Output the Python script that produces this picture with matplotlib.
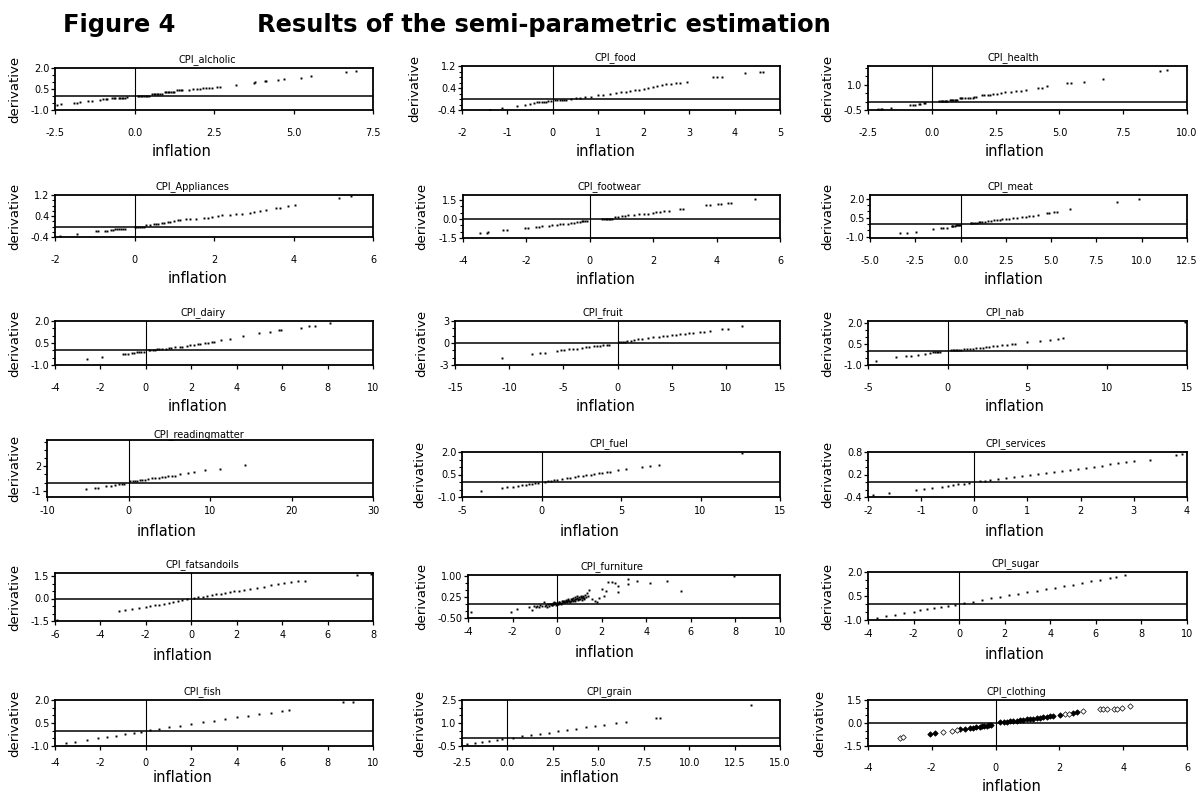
import matplotlib

matplotlib.use("Agg")
import matplotlib.pyplot as plt
import numpy as np
from matplotlib.ticker import FixedLocator, FormatStrFormatter, MultipleLocator

FIG_W, FIG_H = 1204, 796
OUTPUT_PATH = "out.png"

# ---- data (inflation, derivative) ----
alcholic_x = [-2.45, -2.3, -1.9, -1.8, -1.7, -1.45, -1.35, -1.1, -1.0, -0.9, -0.85, -0.7, -0.65, -0.6, -0.5, -0.45, -0.4, -0.35, -0.3, -0.25,
              0.1, 0.15, 0.2, 0.25, 0.3, 0.35, 0.4, 0.45,
              0.55, 0.6, 0.65, 0.7, 0.75, 0.8, 0.85,
              0.95, 1.0, 1.05, 1.1, 1.15, 1.2, 1.25,
              1.35, 1.4, 1.45, 1.5,
              1.7, 1.85, 1.95, 2.05, 2.15, 2.25, 2.35, 2.45, 2.6, 2.7, 3.2, 3.75, 3.8, 4.1, 4.15, 4.5, 4.7, 5.25, 5.55, 6.65, 6.98]
alcholic_y = [-0.66, -0.6, -0.5, -0.47, -0.42, -0.36, -0.34, -0.26, -0.24, -0.21, -0.2, -0.17, -0.16, -0.15, -0.13, -0.12, -0.12, -0.11, -0.11, -0.1,
              0.02, 0.02, 0.02, 0.02, 0.02, 0.02, 0.02, 0.02,
              0.14, 0.14, 0.14, 0.14, 0.14, 0.14, 0.14,
              0.27, 0.27, 0.27, 0.27, 0.27, 0.27, 0.27,
              0.4, 0.4, 0.4, 0.4,
              0.45, 0.47, 0.5, 0.52, 0.56, 0.57, 0.58, 0.6, 0.62, 0.65, 0.8, 0.95, 1.0, 1.06, 1.1, 1.12, 1.18, 1.29, 1.4, 1.74, 1.82]

food_x = [-1.38, -1.12, -0.79, -0.62, -0.5, -0.42, -0.35, -0.3, -0.25, -0.2, -0.15, -0.1, -0.05,
          0.05, 0.1, 0.15, 0.2, 0.25, 0.3, 0.4, 0.5, 0.6, 0.7, 0.85,
          1.0, 1.1, 1.25, 1.4, 1.5, 1.6, 1.7, 1.8, 1.9,
          2.0, 2.1, 2.2, 2.3, 2.4, 2.5, 2.6, 2.7, 2.8, 2.95,
          3.53, 3.62, 3.72, 4.23, 4.55, 4.62]
food_y = [-0.4, -0.34, -0.24, -0.21, -0.17, -0.14, -0.12, -0.11, -0.11, -0.1, -0.1, -0.09, -0.09,
          -0.03, -0.03, -0.03, -0.03, -0.02, -0.02, 0.0, 0.02, 0.04, 0.06, 0.09,
          0.13, 0.15, 0.19, 0.22, 0.24, 0.27, 0.29, 0.31, 0.33,
          0.36, 0.39, 0.42, 0.46, 0.5, 0.53, 0.55, 0.57, 0.58, 0.61,
          0.8, 0.8, 0.8, 0.95, 1.0, 1.0]

health_x = [-2.1, -2.0, -1.95, -1.58, -0.86, -0.75, -0.67, -0.5, -0.45, -0.3, -0.25,
            0.3, 0.35, 0.4, 0.45, 0.5, 0.55, 0.6,
            0.7, 0.75, 0.8, 0.85, 0.9, 0.95, 1.0,
            1.1, 1.15, 1.2, 1.3, 1.4, 1.5, 1.6,
            1.65, 1.75, 1.95, 2.05, 2.2, 2.3, 2.4, 2.55, 2.7, 2.85, 3.1, 3.3, 3.5, 3.7, 4.15, 4.3, 4.5, 5.3, 5.45, 5.95, 6.7, 8.95, 9.2]
health_y = [-0.46, -0.46, -0.47, -0.38, -0.22, -0.2, -0.18, -0.14, -0.13, -0.11, -0.1,
            0.04, 0.04, 0.04, 0.04, 0.04, 0.04, 0.04,
            0.1, 0.1, 0.1, 0.1, 0.1, 0.1, 0.1,
            0.2, 0.2, 0.2, 0.2, 0.2, 0.2, 0.2,
            0.28, 0.3, 0.38, 0.38, 0.4, 0.42, 0.44, 0.48, 0.5, 0.55, 0.6, 0.64, 0.66, 0.72, 0.82, 0.82, 0.9, 1.1, 1.1, 1.18, 1.35, 1.83, 1.88]

appliances_x = [-1.87, -1.44, -0.97, -0.92, -0.75, -0.7, -0.6, -0.55, -0.5, -0.45, -0.4, -0.35, -0.3, -0.25,
                0.02, 0.05, 0.1, 0.15, 0.2, 0.25, 0.3, 0.4, 0.5, 0.55,
                0.6, 0.7, 0.75, 0.85, 0.9, 1.0, 1.1, 1.15, 1.3, 1.4,
                1.55, 1.75, 1.85, 1.95, 2.1, 2.2, 2.4, 2.55, 2.7, 2.9,
                3.0, 3.15, 3.3, 3.55, 3.65, 3.85, 4.05, 5.15, 5.45]
appliances_y = [-0.37, -0.3, -0.19, -0.19, -0.16, -0.16, -0.14, -0.14, -0.11, -0.1, -0.1, -0.1, -0.1, -0.1,
                -0.02, -0.01, -0.01, 0.0, 0.0, 0.0, 0.04, 0.06, 0.08, 0.1,
                0.1, 0.13, 0.14, 0.16, 0.18, 0.2, 0.23, 0.25, 0.27, 0.28,
                0.29, 0.31, 0.33, 0.37, 0.4, 0.42, 0.44, 0.46, 0.48, 0.53,
                0.56, 0.6, 0.62, 0.69, 0.69, 0.78, 0.82, 1.1, 1.15]

footwear_x = [-3.47, -3.25, -3.2, -2.74, -2.6, -2.05, -1.95, -1.7, -1.6, -1.5, -1.3, -1.2,
              -1.05, -0.95, -0.85, -0.7, -0.6, -0.5, -0.4, -0.3, -0.25, -0.2, -0.15, -0.1,
              0.4, 0.45, 0.5, 0.55, 0.6, 0.65, 0.7,
              0.8, 0.9, 1.0, 1.1, 1.2, 1.4, 1.55, 1.7, 1.85, 2.0,
              2.1, 2.2, 2.35, 2.5, 2.85, 2.95, 3.65, 3.8, 4.05, 4.15, 4.35, 4.45, 5.2]
footwear_y = [-1.14, -1.07, -1.04, -0.9, -0.9, -0.69, -0.69, -0.61, -0.6, -0.58, -0.53, -0.5,
              -0.46, -0.43, -0.4, -0.36, -0.34, -0.3, -0.26, -0.2, -0.19, -0.18, -0.17, -0.17,
              0.0, 0.0, 0.0, 0.01, 0.01, 0.01, 0.02,
              0.15, 0.18, 0.2, 0.25, 0.28, 0.33, 0.37, 0.4, 0.42, 0.5,
              0.52, 0.55, 0.6, 0.62, 0.77, 0.8, 1.14, 1.14, 1.22, 1.22, 1.3, 1.3, 1.59]

meat_x = [-3.34, -2.97, -2.46, -1.5, -1.1, -0.95, -0.75, -0.5,
          -0.45, -0.4, -0.3, -0.25, -0.2, -0.15, -0.1, -0.05,
          0.55, 0.6, 0.7, 0.8, 0.9, 1.0, 1.1, 1.2, 1.35, 1.5,
          1.7, 1.85, 2.0, 2.15, 2.3, 2.5, 2.7, 2.9, 3.1, 3.4,
          3.6, 3.8, 4.0, 4.3, 4.75, 4.9, 5.15, 5.3, 6.05, 8.65, 9.85]
meat_y = [-0.72, -0.72, -0.6, -0.39, -0.29, -0.27, -0.27, -0.18,
          -0.15, -0.15, -0.12, -0.11, -0.11, -0.1, -0.09, -0.08,
          0.05, 0.06, 0.06, 0.07, 0.09, 0.13, 0.15, 0.15, 0.18, 0.21,
          0.25, 0.29, 0.32, 0.36, 0.39, 0.41, 0.44, 0.48, 0.5, 0.54,
          0.58, 0.61, 0.66, 0.72, 0.86, 0.88, 0.95, 0.95, 1.18, 1.71, 1.95]

dairy_x = [-2.6, -1.95, -1.0, -0.9, -0.8, -0.63, -0.5, -0.4, -0.3, -0.2, -0.1,
           0.15, 0.2, 0.3, 0.4, 0.5, 0.6, 0.7, 0.9, 1.0, 1.1,
           1.3, 1.5, 1.6, 1.8, 1.95, 2.1, 2.3, 2.4, 2.6, 2.75,
           2.9, 3.0, 3.3, 3.7, 4.28, 5.0, 5.45, 5.85, 5.95, 6.85, 7.2, 7.45, 8.1]
dairy_y = [-0.61, -0.48, -0.25, -0.25, -0.24, -0.16, -0.15, -0.14, -0.12, -0.11, -0.11,
           0.02, 0.02, 0.03, 0.04, 0.07, 0.07, 0.08, 0.12, 0.14, 0.16,
           0.2, 0.22, 0.26, 0.3, 0.35, 0.38, 0.42, 0.45, 0.5, 0.52,
           0.56, 0.6, 0.7, 0.8, 0.95, 1.15, 1.25, 1.36, 1.36, 1.55, 1.66, 1.66, 1.84]

fruit_x = [-10.7, -7.9, -7.15, -6.7, -5.6, -5.2, -4.9, -4.5, -4.1, -3.7,
           -3.3, -2.9, -2.6, -2.2, -1.9, -1.6, -1.3, -1.0, -0.8,
           0.1, 0.3, 0.5, 0.7, 0.9, 1.2, 1.5, 1.9, 2.3, 2.8,
           3.3, 3.8, 4.2, 4.6, 5.0, 5.4, 5.8, 6.2, 6.6, 7.0,
           7.6, 8.0, 8.5, 9.6, 10.2, 11.5]
fruit_y = [-2.1, -1.45, -1.4, -1.3, -1.05, -1.0, -0.96, -0.88, -0.82, -0.76,
           -0.68, -0.6, -0.55, -0.47, -0.42, -0.38, -0.34, -0.3, -0.3,
           0.1, 0.12, 0.14, 0.18, 0.22, 0.3, 0.4, 0.5, 0.58, 0.7,
           0.78, 0.88, 0.95, 1.0, 1.08, 1.15, 1.2, 1.25, 1.3, 1.4,
           1.5, 1.55, 1.68, 1.9, 1.9, 2.36]

nab_x = [-4.48, -3.22, -2.6, -2.3, -1.86, -1.44, -1.12, -0.92, -0.8, -0.7, -0.6, -0.5,
         0.2, 0.3, 0.4, 0.5, 0.6, 0.7, 0.8, 1.0, 1.2, 1.4,
         1.6, 1.8, 2.0, 2.2, 2.4, 2.6, 2.85, 3.1, 3.4, 3.7,
         4.0, 4.2, 4.95, 5.8, 6.4, 6.9, 7.25, 14.9]
nab_y = [-0.7, -0.45, -0.35, -0.33, -0.26, -0.19, -0.12, -0.07, -0.07, -0.07, -0.06, -0.05,
         0.06, 0.06, 0.07, 0.07, 0.07, 0.07, 0.08, 0.11, 0.12, 0.13,
         0.14, 0.2, 0.22, 0.22, 0.26, 0.3, 0.33, 0.36, 0.4, 0.44,
         0.47, 0.5, 0.65, 0.74, 0.82, 0.86, 0.94, 2.07]

readingmatter_x = [-5.2, -4.1, -3.7, -2.7, -2.2, -1.6, -1.2, -0.8, -0.5,
                   0.2, 0.5, 0.8, 1.1, 1.4, 1.7, 2.0, 2.45, 2.9, 3.3, 3.7,
                   4.1, 4.5, 4.9, 5.3, 5.7, 6.3, 7.3, 8.0, 9.4, 11.2, 14.3]
readingmatter_y = [-0.75, -0.6, -0.6, -0.43, -0.36, -0.24, -0.2, -0.16, -0.14,
                   0.18, 0.2, 0.2, 0.22, 0.32, 0.33, 0.35, 0.47, 0.53, 0.59, 0.62,
                   0.67, 0.7, 0.75, 0.8, 0.87, 1.0, 1.2, 1.3, 1.5, 1.66, 2.2]

fuel_x = [-3.8, -2.5, -2.2, -1.8, -1.5, -1.2, -1.0, -0.8, -0.6, -0.4, -0.2,
          0.2, 0.4, 0.6, 0.8, 1.0, 1.3, 1.6, 1.8, 2.1, 2.3, 2.6, 2.8,
          3.1, 3.3, 3.6, 3.8, 4.1, 4.3, 4.8, 5.3, 6.3, 6.8, 7.4, 12.6]
fuel_y = [-0.6, -0.4, -0.36, -0.3, -0.25, -0.2, -0.17, -0.13, -0.1, -0.07, -0.04,
          0.03, 0.06, 0.09, 0.13, 0.16, 0.21, 0.26, 0.3, 0.34, 0.38, 0.42, 0.46,
          0.5, 0.54, 0.58, 0.62, 0.66, 0.7, 0.78, 0.85, 1.0, 1.07, 1.15, 1.95]

services_x = [-1.9, -1.6, -1.1, -0.95, -0.8, -0.6, -0.5, -0.4, -0.3, -0.2, -0.1,
              0.1, 0.2, 0.3, 0.45, 0.6, 0.75, 0.9, 1.05, 1.2, 1.35, 1.5, 1.65,
              1.8, 1.95, 2.1, 2.25, 2.4, 2.55, 2.7, 2.85, 3.0, 3.3, 3.8, 3.9]
services_y = [-0.35, -0.3, -0.22, -0.19, -0.16, -0.12, -0.1, -0.08, -0.06, -0.04, -0.02,
              0.02, 0.04, 0.05, 0.08, 0.1, 0.13, 0.15, 0.18, 0.21, 0.24, 0.27, 0.3,
              0.32, 0.35, 0.38, 0.41, 0.44, 0.47, 0.5, 0.53, 0.56, 0.6, 0.72, 0.76]

fatsandoils_x = [-5.9, -3.2, -2.9, -2.6, -2.3, -2.0, -1.8, -1.6, -1.4, -1.2, -1.0, -0.8, -0.6, -0.4, -0.2,
                 0.1, 0.3, 0.5, 0.7, 0.9, 1.1, 1.3, 1.5, 1.7, 1.9, 2.1, 2.3,
                 2.6, 2.9, 3.2, 3.5, 3.8, 4.1, 4.4, 4.7, 5.0, 7.3, 7.9]
fatsandoils_y = [-1.45, -0.85, -0.77, -0.7, -0.62, -0.55, -0.5, -0.45, -0.4, -0.34, -0.29, -0.23, -0.17, -0.11, -0.06,
                 0.02, 0.08, 0.13, 0.18, 0.23, 0.28, 0.33, 0.38, 0.43, 0.48, 0.53, 0.58,
                 0.65, 0.73, 0.8, 0.87, 0.95, 1.02, 1.08, 1.14, 1.2, 1.6, 1.62]

furniture_x = [-3.85, -2.05, -1.8, -1.25, -1.15, -1.05, -0.95, -0.9, -0.8, -0.75, -0.7, -0.6,
               -0.55, -0.5, -0.45, -0.4, -0.35, -0.3, -0.25, -0.2, -0.15, -0.1, -0.05, 0.0,
               0.05, 0.1, 0.15, 0.2, 0.25, 0.3, 0.35, 0.4, 0.45, 0.5, 0.55, 0.6, 0.65, 0.7, 0.75,
               0.8, 0.85, 0.9, 0.95, 1.0, 1.05, 1.1, 1.15, 1.2, 1.25, 1.3, 1.35, 1.4, 1.45,
               1.55, 1.7, 1.8, 1.9, 2.0, 2.1, 2.2, 2.3, 2.45, 2.6, 2.75, 2.75, 3.2, 3.2, 3.6, 4.15, 4.95, 5.55, 7.95,
               -0.28, -0.18, -0.08, 0.02, 0.12, 0.22, 0.32, 0.42, 0.52, 0.62, 0.72, 0.82, 0.92, 1.02, 1.12, 1.22,
               -0.22, -0.12, 0.08, 0.18, 0.28, 0.38, 0.48, 0.58, 0.68, 0.78, 0.88, 0.98, 1.08, 1.18]
furniture_y = [-0.3, -0.3, -0.16, -0.12, -0.2, -0.08, -0.12, -0.05, -0.1, -0.02, -0.08, 0.08,
               -0.05, -0.02, -0.1, 0.0, -0.06, 0.02, -0.03, 0.05, 0.0, 0.03, -0.02, 0.05,
               0.02, 0.08, 0.04, 0.1, 0.06, 0.12, 0.07, 0.15, 0.1, 0.18, 0.12, 0.2, 0.14, 0.22, 0.16,
               0.25, 0.18, 0.28, 0.2, 0.25, 0.3, 0.22, 0.28, 0.18, 0.32, 0.25, 0.4, 0.3, 0.5,
               0.2, 0.12, 0.08, 0.22, 0.55, 0.3, 0.48, 0.8, 0.78, 0.75, 0.65, 0.42, 0.72, 0.92, 0.85, 0.75, 0.82, 0.48, 1.0,
               0.0, 0.02, 0.04, 0.0, 0.05, 0.03, 0.09, 0.06, 0.1, 0.13, 0.1, 0.17, 0.15, 0.2, 0.16, 0.22,
               -0.04, 0.06, 0.07, 0.02, 0.1, 0.12, 0.14, 0.08, 0.18, 0.12, 0.22, 0.18, 0.24, 0.26]

sugar_x = [-3.6, -3.2, -2.8, -2.4, -2.0, -1.7, -1.4, -1.1, -0.8, -0.5, -0.2,
           0.2, 0.6, 1.0, 1.4, 1.8, 2.2, 2.6, 3.0, 3.4, 3.8,
           4.2, 4.6, 5.0, 5.4, 5.8, 6.2, 6.6, 6.9, 7.3]
sugar_y = [-0.85, -0.75, -0.66, -0.57, -0.48, -0.4, -0.33, -0.26, -0.19, -0.12, -0.05,
           0.05, 0.15, 0.25, 0.35, 0.45, 0.54, 0.64, 0.73, 0.83, 0.93,
           1.02, 1.12, 1.21, 1.31, 1.41, 1.5, 1.6, 1.7, 1.8]

fish_x = [-3.5, -3.1, -2.6, -2.1, -1.7, -1.3, -0.9, -0.5, -0.2,
          0.2, 0.6, 1.0, 1.5, 2.0, 2.5, 3.0, 3.5, 4.0, 4.5, 5.0, 5.5, 6.0, 6.3, 8.7, 9.1]
fish_y = [-0.8, -0.72, -0.62, -0.5, -0.42, -0.32, -0.22, -0.13, -0.06,
          0.04, 0.13, 0.22, 0.33, 0.44, 0.55, 0.66, 0.77, 0.88, 0.98, 1.08, 1.18, 1.28, 1.35, 1.85, 1.9]

grain_x = [-2.2, -1.8, -1.4, -1.0, -0.6, -0.3,
           0.3, 0.8, 1.3, 1.8, 2.3, 2.8, 3.3, 3.8, 4.3, 4.8, 5.3, 6.0, 6.5, 8.2, 8.4, 13.4]
grain_y = [-0.4, -0.33, -0.25, -0.18, -0.1, -0.05,
           0.05, 0.13, 0.22, 0.3, 0.38, 0.47, 0.55, 0.63, 0.72, 0.8, 0.88, 1.0, 1.05, 1.3, 1.3, 2.2]

clothing_x = [-2.06, -1.9, -1.12, -0.96, -0.8, -0.7, -0.6, -0.5, -0.44, -0.35, -0.28, -0.2, -0.13,
              0.14, 0.25, 0.35, 0.45, 0.56, 0.66, 0.76, 0.87, 0.97, 1.08, 1.18,
              1.29, 1.39, 1.5, 1.6, 1.7, 1.81, 2.02, 2.44, 2.54]
clothing_y = [-0.7, -0.63, -0.41, -0.39, -0.35, -0.3, -0.28, -0.25, -0.22, -0.2, -0.17, -0.15, -0.13,
              0.04, 0.06, 0.09, 0.11, 0.13, 0.16, 0.2, 0.22, 0.24, 0.26, 0.28,
              0.31, 0.35, 0.38, 0.41, 0.43, 0.46, 0.54, 0.67, 0.72]
clothing_open_x = [-3.0, -2.9, -1.64, -1.38, -1.22, 2.18, 2.3, 2.75, 3.28, 3.38, 3.49, 3.7, 3.8, 3.96, 4.22]
clothing_open_y = [-1.0, -0.94, -0.57, -0.5, -0.46, 0.59, 0.6, 0.78, 0.89, 0.89, 0.91, 0.92, 0.92, 0.97, 1.1]

# name, x, y, xlim, xstep, xfmt, ylim, major yticks, minor ystep, yfmt
PANELS = [
    ("CPI_alcholic", alcholic_x, alcholic_y, (-2.5, 7.5), 2.5, "%.1f", (-1.0, 2.0), [-1.0, 0.5, 2.0], 0.5, "%.1f"),
    ("CPI_food", food_x, food_y, (-2, 5), 1, "%d", (-0.4, 1.2), [-0.4, 0.4, 1.2], 0.2, "%.1f"),
    ("CPI_health", health_x, health_y, (-2.5, 10), 2.5, "%.1f", (-0.5, 2.12), [-0.5, 1.0], 0.5, "%.1f"),
    ("CPI_Appliances", appliances_x, appliances_y, (-2, 6), 2, "%d", (-0.4, 1.2), [-0.4, 0.4, 1.2], 0.2, "%.1f"),
    ("CPI_footwear", footwear_x, footwear_y, (-4, 6), 2, "%d", (-1.5, 1.9), [-1.5, 0.0, 1.5], 0.5, "%.1f"),
    ("CPI_meat", meat_x, meat_y, (-5, 12.5), 2.5, "%.1f", (-1.1, 2.3), [-1.0, 0.5, 2.0], 0.5, "%.1f"),
    ("CPI_dairy", dairy_x, dairy_y, (-4, 10), 2, "%d", (-1.0, 2.0), [-1.0, 0.5, 2.0], 0.5, "%.1f"),
    ("CPI_fruit", fruit_x, fruit_y, (-15, 15), 5, "%d", (-3, 3), [-3, 0, 3], 1, "%d"),
    ("CPI_nab", nab_x, nab_y, (-5, 15), 5, "%d", (-1.0, 2.15), [-1.0, 0.5, 2.0], 0.5, "%.1f"),
    ("CPI_readingmatter", readingmatter_x, readingmatter_y, (-10, 30), 10, "%d", (-1.75, 5.2), [-1, 2], 1, "%d"),
    ("CPI_fuel", fuel_x, fuel_y, (-5, 15), 5, "%d", (-1.0, 2.0), [-1.0, 0.5, 2.0], 0.5, "%.1f"),
    ("CPI_services", services_x, services_y, (-2, 4), 1, "%d", (-0.4, 0.8), [-0.4, 0.2, 0.8], 0.2, "%.1f"),
    ("CPI_fatsandoils", fatsandoils_x, fatsandoils_y, (-6, 8), 2, "%d", (-1.5, 1.7), [-1.5, 0.0, 1.5], 0.5, "%.1f"),
    ("CPI_furniture", furniture_x, furniture_y, (-4, 10), 2, "%d", (-0.5, 1.05), [-0.5, 0.25, 1.0], 0.25, "%.2f"),
    ("CPI_sugar", sugar_x, sugar_y, (-4, 10), 2, "%d", (-1.0, 2.0), [-1.0, 0.5, 2.0], 0.5, "%.1f"),
    ("CPI_fish", fish_x, fish_y, (-4, 10), 2, "%d", (-1.0, 2.0), [-1.0, 0.5, 2.0], 0.5, "%.1f"),
    ("CPI_grain", grain_x, grain_y, (-2.5, 15), 2.5, "%.1f", (-0.5, 2.5), [-0.5, 1.0, 2.5], 0.5, "%.1f"),
    ("CPI_clothing", clothing_x, clothing_y, (-4, 6), 2, "%d", (-1.5, 1.5), [-1.5, 0.0, 1.5], 0.5, "%.1f"),
]

# pixel boxes (left, right, top, bottom) of each panel's frame
BOXES = [
    (55, 373, 68, 110), (462, 780, 66, 110), (868, 1187, 66, 110),
    (55, 373, 195, 237), (463, 780, 195, 238), (870, 1187, 195, 238),
    (55, 373, 321, 365), (455, 780, 321, 365), (868, 1187, 321, 365),
    (47, 373, 440, 497), (462, 780, 452, 497), (868, 1187, 452, 497),
    (55, 373, 573, 621), (468, 780, 575, 618), (868, 1187, 572, 620),
    (55, 373, 700, 746), (462, 780, 700, 746), (868, 1187, 700, 746),
]

# xtick pad (pt), xlabel pad (pt), ylabel offset (px), title pad (pt),
# title shift (px), xlabel shift (px)
PADS = [
    (9.7, 4.3, 40, 4.5, -7, -32), (9.7, 4.3, 47, 4.5, -6, -15), (9.7, 4.3, 40, 4.5, -14, -13),
    (9.7, 4.3, 40, 4.5, -22, -16), (9.7, 4.3, 41, 4.5, -12, -16), (9.7, 4.3, 42, 4.5, -18, -15),
    (9.7, 4.3, 40, 4.5, -11, -16), (9.7, 4.3, 33, 4.5, -15, -12), (9.7, 4.3, 40, 4.5, -22, -13),
    (3.2, 5.8, 32, 1.5, -11, -43), (3.2, 5.8, 42, 4.5, -12, -31), (3.2, 5.8, 40, 4.5, -12, -13),
    (3.2, 5.8, 40, 4.5, -12, -31), (3.2, 5.8, 46, 4.5, -12, -19), (3.2, 5.8, 40, 4.5, -12, -13),
    (5.4, 1.5, 40, 4.5, -12, -31), (5.4, 1.5, 42, 4.5, -12, -31), (9.0, 4.3, 48, 4.5, -11, -16),
]

plt.rcParams["axes.unicode_minus"] = False
plt.rcParams["font.family"] = "DejaVu Sans"


def draw_panel(fig, panel, box, pads):
    name, xs, ys, xlim, xstep, xfmt, ylim, yticks, ystep, yfmt = panel
    left, right, top, bottom = box
    xpad, xlabpad, yoff, tpad, tshift, xlshift = pads
    width_px = right - left
    ax = fig.add_axes([left / FIG_W, 1 - bottom / FIG_H, width_px / FIG_W, (bottom - top) / FIG_H])

    ax.axhline(0, color="black", lw=1.1, zorder=1)
    ax.axvline(0, color="black", lw=0.8, zorder=1)

    if name == "CPI_clothing":
        ax.plot(xs, ys, ls="none", marker="D", ms=2.8, mfc="black", mec="black", mew=0.5, zorder=3)
        ax.plot(clothing_open_x, clothing_open_y, ls="none", marker="D", ms=2.8,
                mfc="white", mec="black", mew=0.5, zorder=3)
    else:
        ax.plot(xs, ys, ls="none", marker="s", ms=1.4, mew=0, color="black", zorder=3)

    ax.set_xlim(*xlim)
    ax.set_ylim(*ylim)
    ax.xaxis.set_major_locator(FixedLocator(np.arange(xlim[0], xlim[1] + xstep / 2, xstep)))
    ax.xaxis.set_major_formatter(FormatStrFormatter(xfmt))
    ax.yaxis.set_major_locator(FixedLocator(yticks))
    ax.yaxis.set_minor_locator(MultipleLocator(ystep))
    ax.yaxis.set_major_formatter(FormatStrFormatter(yfmt))

    for spine in ax.spines.values():
        spine.set_linewidth(1.3)
    ax.tick_params(axis="both", which="major", direction="out", length=3, width=0.9, labelsize=7)
    ax.tick_params(axis="y", which="minor", direction="out", length=2.5, width=0.8)
    ax.tick_params(axis="y", which="major", pad=1)
    ax.tick_params(axis="x", which="major", pad=xpad)

    ax.set_title(name, fontsize=7, pad=tpad, x=0.5 + tshift / width_px)
    ax.set_xlabel("inflation", fontsize=10.5, labelpad=xlabpad)
    ax.xaxis.label.set_x(0.5 + xlshift / width_px)
    ax.set_ylabel("derivative", fontsize=9.5)
    ax.yaxis.set_label_coords(-(yoff - 6) / width_px, 0.5)
    return ax


def main():
    fig = plt.figure(figsize=(FIG_W / 100, FIG_H / 100), dpi=100)
    fig.patch.set_facecolor("white")

    fig.text(63 / FIG_W, 1 - 32 / FIG_H, "Figure 4", fontsize=17.4, weight="bold", va="baseline")
    fig.text(257 / FIG_W, 1 - 32 / FIG_H, "Results of the semi-parametric estimation",
             fontsize=17.4, weight="bold", va="baseline")

    for panel, box, pads in zip(PANELS, BOXES, PADS):
        draw_panel(fig, panel, box, pads)

    fig.savefig(OUTPUT_PATH, dpi=100, facecolor="white")
    plt.close(fig)


if __name__ == "__main__":
    main()
